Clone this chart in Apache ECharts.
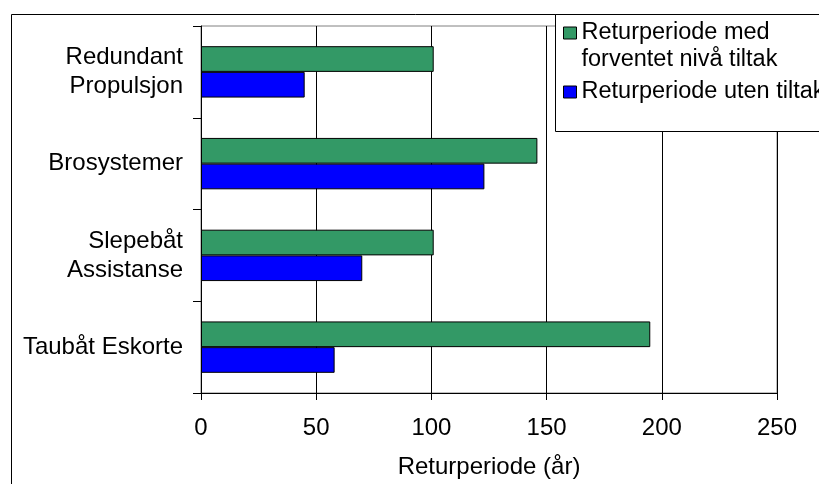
<!DOCTYPE html>
<html>
<head>
<meta charset="utf-8">
<script src="https://cdn.jsdelivr.net/npm/echarts@6/dist/echarts.min.js"></script>
<style>
  html, body { margin: 0; padding: 0; background: #fff; }
  #chart { width: 819px; height: 484px; }
</style>
</head>
<body>
<div id="chart"></div>
<script>
  // categories bottom -> top (category y axis grows upwards)
  const categories = ['Taubåt Eskorte', 'Slepebåt\nAssistanse', 'Brosystemer', 'Redundant\nPropulsjon'];
  const seriesNames = ['Returperiode med\nforventet nivå tiltak', 'Returperiode uten tiltak'];
  const medTiltak = [195, 101, 146, 101];
  const utenTiltak = [58, 70, 123, 45];
  const xTicks = [0, 250, 50]; // min, max, interval
  const xName = 'Returperiode (år)';

  const font = 'Liberation Sans, Arial, sans-serif';
  const chart = echarts.init(document.getElementById('chart'));

  chart.setOption({
    animation: false,
    backgroundColor: '#fff',
    textStyle: { fontFamily: font },
    grid: {
      left: 201, right: 42, top: 26, bottom: 86,
      show: true, borderColor: '#808080', borderWidth: 1
    },
    // icon sits on the first text line, like the original legend
    legend: {
      orient: 'vertical',
      left: 563, top: -7.5,
      padding: 0,
      itemGap: 5,
      itemWidth: 13, itemHeight: 12,
      icon: 'rect',
      z: 5,
      data: seriesNames,
      itemStyle: { borderColor: '#000', borderWidth: 1 },
      textStyle: { fontSize: 23.5, color: '#000', lineHeight: 27, fontFamily: font },
      formatter: function (name) {
        return name.indexOf('\n') > -1 ? '\n' + name : name;
      }
    },
    xAxis: {
      type: 'value',
      min: xTicks[0], max: xTicks[1], interval: xTicks[2],
      name: xName,
      nameLocation: 'middle',
      nameGap: 62,
      nameTextStyle: { fontSize: 24, color: '#000', fontFamily: font },
      axisLine: { show: true, lineStyle: { color: '#000', width: 1 } },
      axisTick: { show: true, length: 7, lineStyle: { color: '#000' } },
      axisLabel: { fontSize: 24, color: '#000', margin: 23, fontFamily: font },
      splitLine: { show: true, lineStyle: { color: '#000', width: 1 } }
    },
    yAxis: {
      type: 'category',
      data: categories,
      axisLine: { show: true, lineStyle: { color: '#000', width: 1 } },
      axisTick: { show: true, length: 8, lineStyle: { color: '#000' } },
      axisLabel: { fontSize: 24, color: '#000', margin: 18, lineHeight: 29, align: 'right', fontFamily: font },
      splitLine: { show: false }
    },
    series: [{
      name: seriesNames[0],
      type: 'bar',
      data: medTiltak,
      barGap: '0%',
      barCategoryGap: '44%',
      itemStyle: { color: '#339966', borderColor: '#000', borderWidth: 1 }
    }, {
      name: seriesNames[1],
      type: 'bar',
      data: utenTiltak,
      itemStyle: { color: '#0000ff', borderColor: '#000', borderWidth: 1 }
    }],
    graphic: [{
      type: 'rect',
      z: 0,
      shape: { x: 11.5, y: 14.5, width: 1000, height: 1000 },
      style: { fill: 'none', stroke: '#000', lineWidth: 1 }
    }, {
      type: 'rect',
      z: 1,
      shape: { x: 555.5, y: 14.5, width: 400, height: 117 },
      style: { fill: '#fff', stroke: '#000', lineWidth: 1 }
    }]
  });
</script>
</body>
</html>
